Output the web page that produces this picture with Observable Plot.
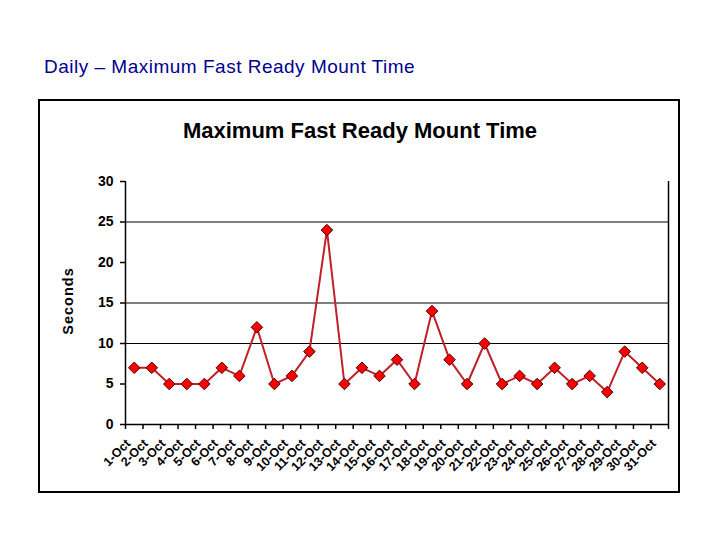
<!DOCTYPE html>
<html><head><meta charset="utf-8">
<script src="https://cdn.jsdelivr.net/npm/d3@7"></script>
<script src="https://cdn.jsdelivr.net/npm/@observablehq/plot@0.6"></script>
<style>
body{margin:0;background:#fff;width:720px;height:540px;position:relative;overflow:hidden;font-family:Arial,"Liberation Sans",sans-serif}
#pagetitle{position:absolute;left:44px;top:57px;font-size:19px;line-height:1;color:#000090;letter-spacing:.5px;white-space:nowrap}
#box{position:absolute;left:38px;top:99px;width:638px;height:390px;border:2px solid #000}
#charttitle{position:absolute;left:0;width:720px;top:120px;text-align:center;font-weight:bold;font-size:22px;line-height:1;color:#000}
#ylabel{position:absolute;left:68px;top:301px;transform:translate(-50%,-50%) rotate(-90deg);font-weight:bold;font-size:14.5px;letter-spacing:1px;white-space:nowrap;line-height:1}
#chart{position:absolute;left:0;top:0}
#chart svg text{font-weight:bold}
#chart svg g[aria-label="y-axis tick label"] text{font-size:14px}
#chart svg g[aria-label="x-axis tick label"] text{font-size:12.5px}
</style>
</head><body>
<div id="pagetitle">Daily – Maximum Fast Ready Mount Time</div>
<div id="box"></div>
<div id="charttitle">Maximum Fast Ready Mount Time</div>
<div id="ylabel">Seconds</div>
<div id="chart"></div>
<script>
const days = ["1-Oct","2-Oct","3-Oct","4-Oct","5-Oct","6-Oct","7-Oct","8-Oct","9-Oct","10-Oct",
  "11-Oct","12-Oct","13-Oct","14-Oct","15-Oct","16-Oct","17-Oct","18-Oct","19-Oct","20-Oct",
  "21-Oct","22-Oct","23-Oct","24-Oct","25-Oct","26-Oct","27-Oct","28-Oct","29-Oct","30-Oct","31-Oct"];
const seconds = [7,7,5,5,5,7,6,12,5,6,9,24,5,7,6,8,5,14,8,5,10,5,6,5,7,5,6,4,9,7,5];
const yTicks = [0,5,10,15,20,25,30];
const gridLines = [10,15,25];

const positions = days.map((d, i) => i + 1);
const edges = [0.5, ...positions.map(p => p + 0.5)];
const data = days.map((d, i) => ({pos: positions[i], day: d, value: seconds[i]}));

const chart = Plot.plot({
  width: 720,
  height: 540,
  marginLeft: 125,
  marginRight: 52,
  marginTop: 181,
  marginBottom: 116,
  x: {domain: [edges[0], edges[edges.length - 1]]},
  y: {domain: [yTicks[0], yTicks[yTicks.length - 1]]},
  style: {fontFamily: "Arial, 'Liberation Sans', sans-serif", background: "transparent", overflow: "visible", color: "#000"},
  marks: [
    Plot.ruleY(gridLines, {stroke: "#000", strokeWidth: 1.2}),
    Plot.ruleX([edges[0], edges[edges.length - 1]], {stroke: "#000", strokeWidth: 1.5}),
    Plot.ruleY([yTicks[0]], {stroke: "#000", strokeWidth: 1.5}),
    Plot.axisY({ticks: yTicks, tickSize: 5, tickPadding: 7, fontSize: 14, fontWeight: "bold", label: null, strokeWidth: 1.5}),
    Plot.axisX({ticks: edges, tickSize: 5, tickFormat: () => "", label: null, strokeWidth: 1.5}),
    Plot.axisX({ticks: positions, tickSize: 0, tickPadding: 10, dx: -6, dy: 7, tickFormat: p => days[p - 1], tickRotate: -45, fontSize: 12.5, fontWeight: "bold", label: null}),
    Plot.line(data, {x: "pos", y: "value", stroke: "#c0202a", strokeWidth: 2}),
    Plot.dot(data, {x: "pos", y: "value", symbol: "diamond2", r: 5.2, fill: "#ff0000", stroke: "#4a0000", strokeWidth: 1})
  ]
});
document.getElementById("chart").appendChild(chart);
</script>
</body></html>
